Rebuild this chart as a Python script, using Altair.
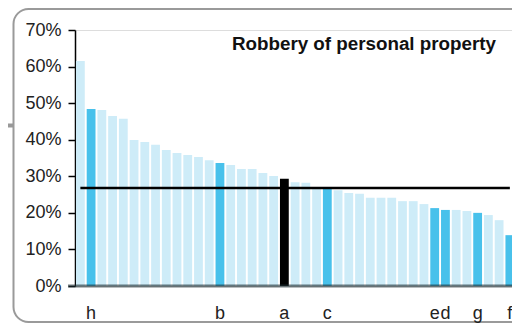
import altair as alt
import pandas as pd

# Bar values (percent), sorted descending
values = [61.5, 48.4, 48.1, 46.5, 45.7, 39.9, 39.4, 38.6, 37.2, 36.4, 35.8,
          35.3, 34.4, 33.6, 33.1, 32.0, 32.0, 30.9, 30.1, 29.3, 28.4, 28.2,
          26.8, 26.6, 26.2, 25.4, 25.2, 24.1, 24.1, 24.1, 23.2, 23.2, 22.4,
          21.3, 20.8, 20.8, 20.5, 20.0, 19.4, 18.0, 13.9]
label_index = [1, 13, 19, 23, 33, 34, 37, 40]
label_text = ["h", "b", "a", "c", "e", "d", "g", "f"]
focus_label = "a"
average = 26.8
title_text = "Robbery of personal property"
y_ticks = [0, .1, .2, .3, .4, .5, .6, .7]

lab = dict(zip(label_index, label_text))
rows = []
for i, v in enumerate(values):
    l = lab.get(i, "")
    kind = "focus" if l == focus_label else ("marked" if l else "other")
    rows.append({"i": i, "x0": i - 0.41, "x1": i + 0.41, "v": v / 100, "label": l, "kind": kind})
df = pd.DataFrame(rows)
lab_df = df[df["label"] != ""]

W, H = 437, 256
FONT = "Liberation Sans"

xscale = alt.Scale(domain=[-0.5, 40.2], nice=False, zero=False)
yscale = alt.Scale(domain=[0, 0.7], nice=False)
yaxis = alt.Axis(format=".0%", values=y_ticks, labelOverlap=False,
                 grid=False, domainColor="black", domainWidth=1.5,
                 tickColor="black", tickSize=7, tickWidth=1.5,
                 labelFont=FONT, labelFontSize=18, labelColor="#222",
                 labelPadding=7, title=None)

base = alt.Chart(df)

bars = base.mark_rect(clip=True).encode(
    x=alt.X("x0:Q", scale=xscale, axis=None),
    x2="x1:Q",
    y=alt.Y("v:Q", scale=yscale, axis=yaxis),
    y2=alt.datum(0),
    color=alt.Color("kind:N", legend=None,
                    scale=alt.Scale(domain=["other", "marked", "focus"],
                                    range=["#ceecf8", "#48c1eb", "#000000"])),
)

avg = alt.Chart(pd.DataFrame({"a": [average / 100], "s": [0], "e": [40]})).mark_rule(
    color="black", strokeWidth=2.5, clip=True).encode(
    x=alt.X("s:Q", scale=xscale, axis=None), x2="e:Q",
    y=alt.Y("a:Q", scale=yscale, axis=yaxis))

baseline = alt.Chart(pd.DataFrame({"z": [0]})).mark_rule(
    color="#1f2f33", opacity=0.62, strokeWidth=3).encode(
    x=alt.value(-7), x2=alt.value(W), y=alt.Y("z:Q", scale=yscale, axis=yaxis))

xlabels = alt.Chart(lab_df).mark_text(
    font=FONT, fontSize=18, color="#222", baseline="middle", clip=False).encode(
    x=alt.X("i:Q", scale=xscale, axis=None), y=alt.value(H + 28), text="label:N")

one = pd.DataFrame({"k": [0]})
title = alt.Chart(one).mark_text(
    text=title_text, font=FONT, fontSize=18.8, fontWeight="bold", color="#111",
    align="right", baseline="alphabetic").encode(
    x=alt.value(421), y=alt.value(20))

frame = alt.Chart(one).mark_rect(
    fill="transparent", stroke="#9a9a9a", strokeWidth=2, cornerRadius=15, clip=False).encode(
    x=alt.value(-61.5), x2=alt.value(480), y=alt.value(-21), y2=alt.value(292))

stub = alt.Chart(one).mark_rule(color="#999999", strokeWidth=4, clip=False).encode(
    x=alt.value(-70), x2=alt.value(-62), y=alt.value(95.5))

chart = alt.layer(frame, stub, bars, baseline, avg, xlabels, title).properties(
    width=W, height=H,
    padding={"left": 67, "top": 22, "right": 0, "bottom": 38},
    autosize=alt.AutoSizeParams(type="none"),
).configure_view(stroke="transparent", strokeWidth=0).configure(background="white")

chart.save("out.html", embed_options={"renderer": "svg", "actions": False})
